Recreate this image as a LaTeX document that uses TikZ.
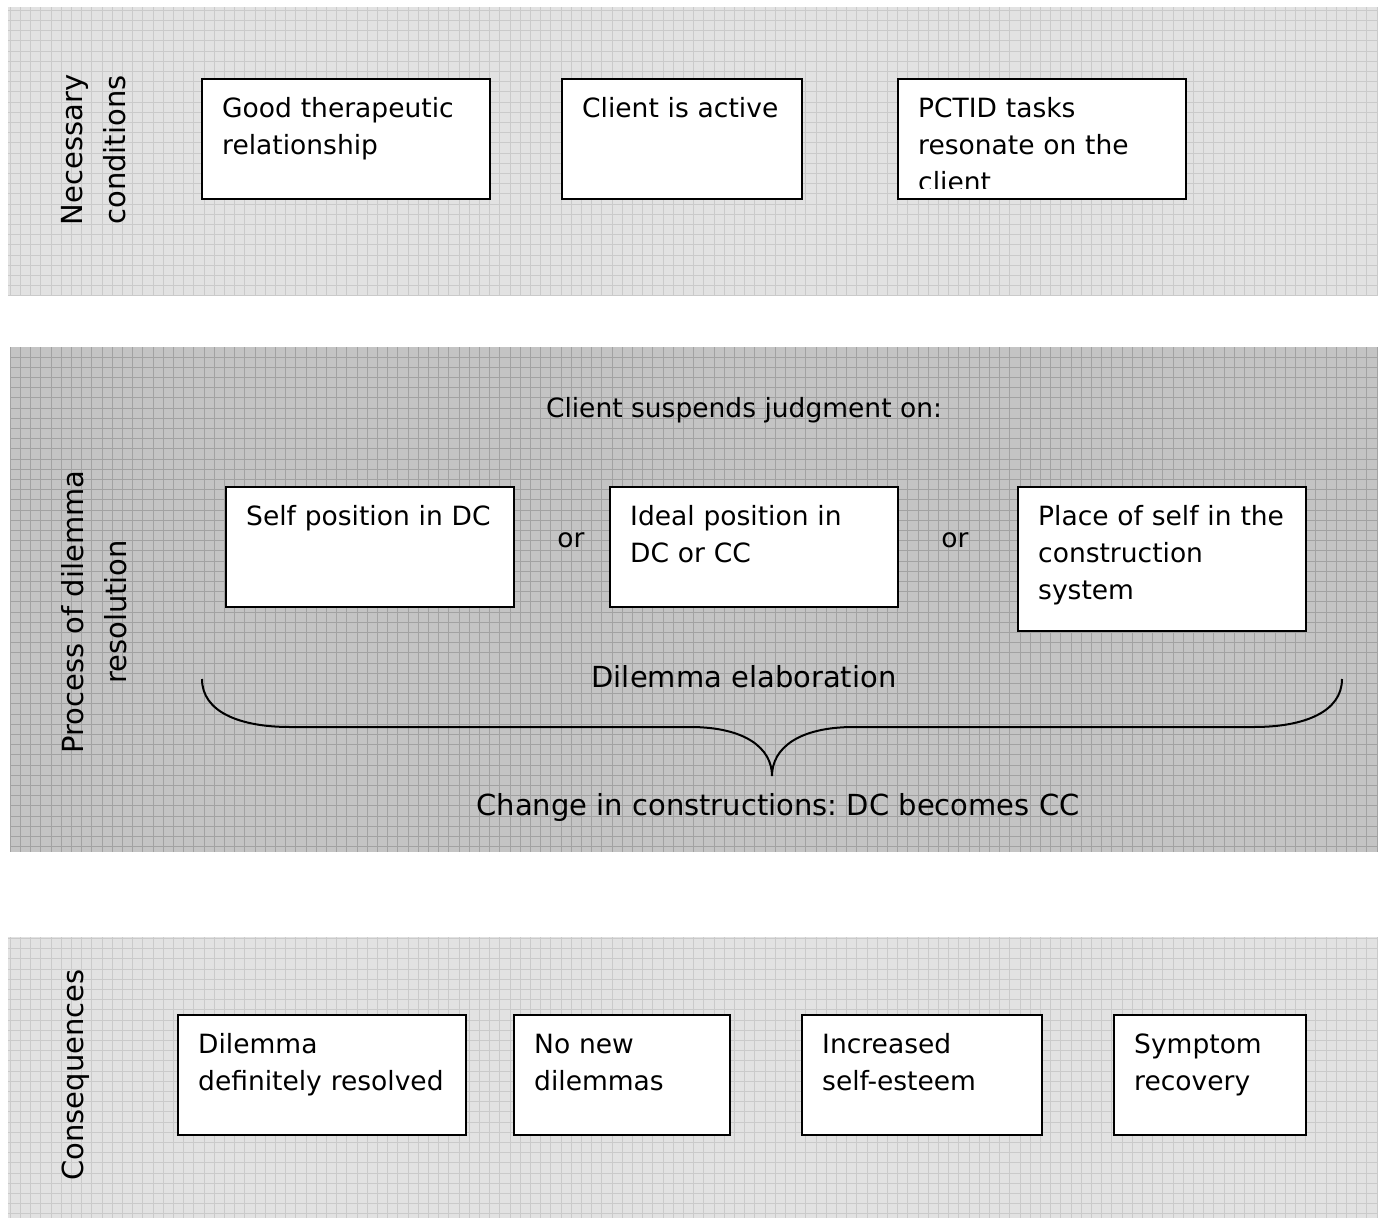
\documentclass[tikz,border=0pt]{standalone}
\usepackage{fontspec}
\setmainfont{DejaVu Sans}
\frenchspacing

\definecolor{lightbg}{RGB}{226,226,226}
\definecolor{lightgrid}{RGB}{202,202,202}
\definecolor{darkbg}{RGB}{196,196,196}
\definecolor{darkgrid}{RGB}{162,162,162}

\newcommand\boxfont{\fontsize{26.5}{37}\selectfont}
\newcommand\bigfont{\fontsize{29}{43}\selectfont}

% textured band: flat fill with a fine square grid on top
\newcommand\gridband[6]{%
  \fill[#5] (#1,#2) rectangle (#3,#4);
  \begin{scope}
    \clip (#1,#2) rectangle (#3,#4);
    \foreach \gx in {0,10.2,...,1390} \draw[#6, line width=1pt] (\gx,#2) -- (\gx,#4);
    \foreach \gy in {0,10.2,...,1225} \draw[#6, line width=1pt] (#1,\gy) -- (#3,\gy);
  \end{scope}}

\tikzset{
  box/.style={draw=black, line width=2pt, fill=white, anchor=north west,
    inner sep=0pt, outer sep=0pt},
  boxtext/.style={anchor=north west, inner sep=0pt, text width=#1,
    align=left, font=\boxfont, execute at begin node=\strut},
  boxtext/.default=270pt,
  sidelabel/.style={rotate=90, align=center, inner sep=0pt, font=\bigfont},
  plain/.style={inner sep=0pt, font=\boxfont},
  bigplain/.style={inner sep=0pt, font=\bigfont},
  brace/.style={draw=black, line width=2pt},
}

\begin{document}
\begin{tikzpicture}[x=1pt, y=-1pt]
\useasboundingbox (0,0) rectangle (1385,1218);
\fill[white] (0,0) rectangle (1385,1218);

% ---- bands ----
\gridband{8}{7}{1378}{295}{lightbg}{lightgrid}
\gridband{10}{347}{1378}{852}{darkbg}{darkgrid}
\gridband{8}{937}{1378}{1218}{lightbg}{lightgrid}

% ---- necessary conditions ----
\node[sidelabel] (nc) at (94,150) {Necessary\\conditions};

\node[box, minimum width=288pt, minimum height=120pt] (c1) at (202,79) {};
\node[boxtext] (c1t) at ([shift={(20,12)}]c1.north west) {Good therapeutic\\relationship};

\node[box, minimum width=240pt, minimum height=120pt] (c2) at (562,79) {};
\node[boxtext] (c2t) at ([shift={(20,12)}]c2.north west) {Client is active};

\node[box, minimum width=288pt, minimum height=120pt] (c3) at (898,79) {};
\begin{scope}
  \clip (898,79) rectangle (1186,188);
  \node[boxtext] (c3t) at ([shift={(20,12)}]c3.north west) {PCTID tasks\\resonate on the\\client};
\end{scope}

% ---- process of dilemma resolution ----
\node[sidelabel] (pr) at (94,612) {Process of dilemma\\resolution};

\node[plain, anchor=base] (susp) at (744,417) {Client suspends judgment on:};

\node[box, minimum width=288pt, minimum height=120pt] (p1) at (226,487) {};
\node[boxtext] (p1t) at ([shift={(20,12)}]p1.north west) {Self position in DC};

\node[plain, anchor=base] (or1) at (571,547) {or};

\node[box, minimum width=288pt, minimum height=120pt] (p2) at (610,487) {};
\node[boxtext] (p2t) at ([shift={(20,12)}]p2.north west) {Ideal position in\\DC or CC};

\node[plain, anchor=base] (or2) at (955,547) {or};

\node[box, minimum width=288pt, minimum height=144pt] (p3) at (1018,487) {};
\node[boxtext] (p3t) at ([shift={(20,12)}]p3.north west) {Place of self in the\\construction\\system};

\node[bigplain, anchor=base] (elab) at (744,687) {Dilemma elaboration};

\draw[brace] (202,679) .. controls (202,712) and (240,727) .. (290,727)
  -- (690,727) .. controls (745,727) and (772,748) .. (772,776)
  .. controls (772,748) and (799,727) .. (854,727)
  -- (1254,727) .. controls (1304,727) and (1342,712) .. (1342,679);

\node[bigplain, anchor=base] (chg) at (778,815) {Change in constructions: DC becomes CC};

% ---- consequences ----
\node[sidelabel] (cq) at (76,1075) {Consequences};

\node[box, minimum width=288pt, minimum height=120pt] (q1) at (178,1015) {};
\node[boxtext] (q1t) at ([shift={(20,12)}]q1.north west) {Dilemma\\definitely resolved};

\node[box, minimum width=216pt, minimum height=120pt] (q2) at (514,1015) {};
\node[boxtext] (q2t) at ([shift={(20,12)}]q2.north west) {No new\\dilemmas};

\node[box, minimum width=240pt, minimum height=120pt] (q3) at (802,1015) {};
\node[boxtext] (q3t) at ([shift={(20,12)}]q3.north west) {Increased\\self-esteem};

\node[box, minimum width=192pt, minimum height=120pt] (q4) at (1114,1015) {};
\node[boxtext] (q4t) at ([shift={(20,12)}]q4.north west) {Symptom\\recovery};
\end{tikzpicture}
\end{document}
